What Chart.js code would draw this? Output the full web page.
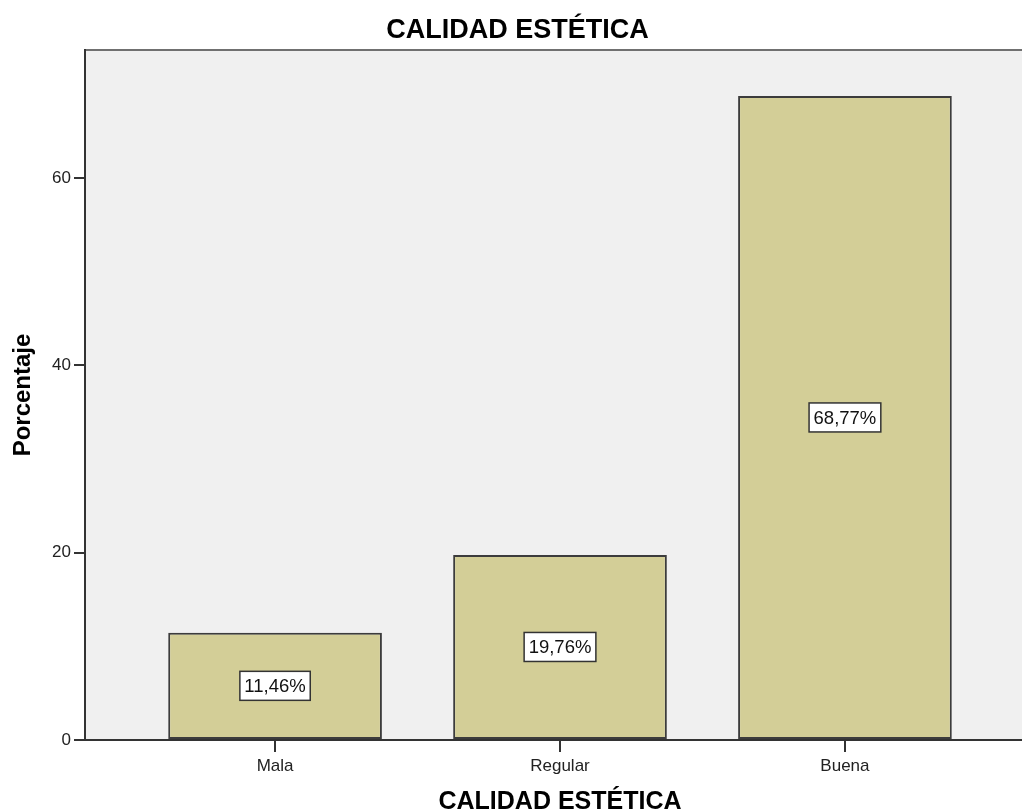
<!DOCTYPE html>
<html lang="es">
<head>
<meta charset="utf-8">
<title>Calidad estética</title>
<script src="https://cdn.jsdelivr.net/npm/chart.js@4/dist/chart.umd.min.js"></script>
<style>
  html, body { margin: 0; padding: 0; background: #fff; overflow: hidden; }
  #grafico { display: block; }
</style>
</head>
<body>
<canvas id="grafico" width="1040" height="812"></canvas>
<script>
// Datos del gráfico
const categorias = ['Mala', 'Regular', 'Buena'];
const porcentajes = [11.46, 19.76, 68.77];
const ticksY = [0, 20, 40, 60];

const fuente = "'Liberation Sans', Arial, sans-serif";

// Fondo gris del área de trazado y borde superior
const fondoPlot = {
  id: 'fondoPlot',
  beforeDraw(chart) {
    const { ctx, chartArea: a } = chart;
    ctx.save();
    ctx.fillStyle = '#f0f0f0';
    ctx.fillRect(a.left, a.top, a.right - a.left, a.bottom - a.top);
    ctx.strokeStyle = '#707070';
    ctx.lineWidth = 2;
    ctx.beginPath();
    ctx.moveTo(a.left, a.top);
    ctx.lineTo(chart.width, a.top);
    ctx.stroke();
    ctx.restore();
  }
};

// Etiquetas con recuadro blanco en el centro de cada barra
const etiquetasBarras = {
  id: 'etiquetasBarras',
  afterDatasetsDraw(chart) {
    const { ctx } = chart;
    const meta = chart.getDatasetMeta(0);
    ctx.save();
    ctx.font = '18.5px ' + fuente;
    ctx.textAlign = 'center';
    ctx.textBaseline = 'middle';
    meta.data.forEach((barra, i) => {
      const texto = porcentajes[i].toFixed(2).replace('.', ',') + '%';
      const cx = barra.x;
      const cy = (barra.y + barra.base) / 2;
      const w = ctx.measureText(texto).width + 9;
      const h = 29;
      ctx.fillStyle = '#ffffff';
      ctx.fillRect(cx - w / 2, cy - h / 2, w, h);
      ctx.strokeStyle = '#333333';
      ctx.lineWidth = 1.5;
      ctx.strokeRect(cx - w / 2, cy - h / 2, w, h);
      ctx.fillStyle = '#111111';
      ctx.fillText(texto, cx, cy + 1);
    });
    ctx.restore();
  }
};

new Chart(document.getElementById('grafico'), {
  type: 'bar',
  data: {
    datasets: [{
      label: 'Porcentaje',
      data: porcentajes.map((v, i) => ({ x: i, y: v })),
      backgroundColor: '#d3ce97',
      borderColor: '#3c3c3c',
      borderWidth: 2,
      borderSkipped: false,
      barPercentage: 0.75,
      categoryPercentage: 1
    }]
  },
  options: {
    responsive: false,
    animation: false,
    layout: { padding: { left: 0, right: 5, top: 0, bottom: 0 } },
    scales: {
      x: {
        type: 'linear',
        offset: false,
        min: -0.667,
        max: 2.667,
        afterBuildTicks(scale) {
          scale.ticks = categorias.map((c, i) => ({ value: i }));
        },
        afterFit(scale) { scale.height = 72; },
        ticks: {
          autoSkip: false,
          maxRotation: 0,
          padding: 4,
          color: '#222',
          font: { family: fuente, size: 17 },
          callback: (v) => categorias[v] ?? ''
        },
        grid: {
          offset: false,
          drawOnChartArea: false,
          drawTicks: true,
          tickLength: 12,
          color: '#333',
          lineWidth: 2
        },
        border: { display: true, color: '#333', width: 2 },
        title: {
          display: true,
          text: 'CALIDAD ESTÉTICA',
          color: '#000',
          font: { family: fuente, size: 25, weight: 'bold', lineHeight: 0.8 },
          padding: { top: 0, bottom: 0 }
        }
      },
      y: {
        min: 0,
        max: 73.67,
        afterBuildTicks(scale) {
          scale.ticks = ticksY.map(v => ({ value: v }));
        },
        afterFit(scale) { scale.width = 85; },
        ticks: {
          padding: 3,
          color: '#222',
          font: { family: fuente, size: 17 }
        },
        grid: {
          drawOnChartArea: false,
          drawTicks: true,
          tickLength: 11,
          color: '#333',
          lineWidth: 2
        },
        border: { display: true, color: '#333', width: 2 },
        title: {
          display: true,
          text: 'Porcentaje',
          color: '#000',
          font: { family: fuente, size: 24, weight: 'bold', lineHeight: 1 },
          padding: { top: 11, bottom: 0 }
        }
      }
    },
    plugins: {
      legend: { display: false },
      tooltip: { enabled: false },
      title: {
        display: true,
        text: 'CALIDAD ESTÉTICA',
        color: '#000',
        font: { family: fuente, size: 27, weight: 'bold', lineHeight: 1.2 },
        padding: { top: 14, bottom: 3.6 }
      }
    }
  },
  plugins: [fondoPlot, etiquetasBarras]
});
</script>
</body>
</html>
